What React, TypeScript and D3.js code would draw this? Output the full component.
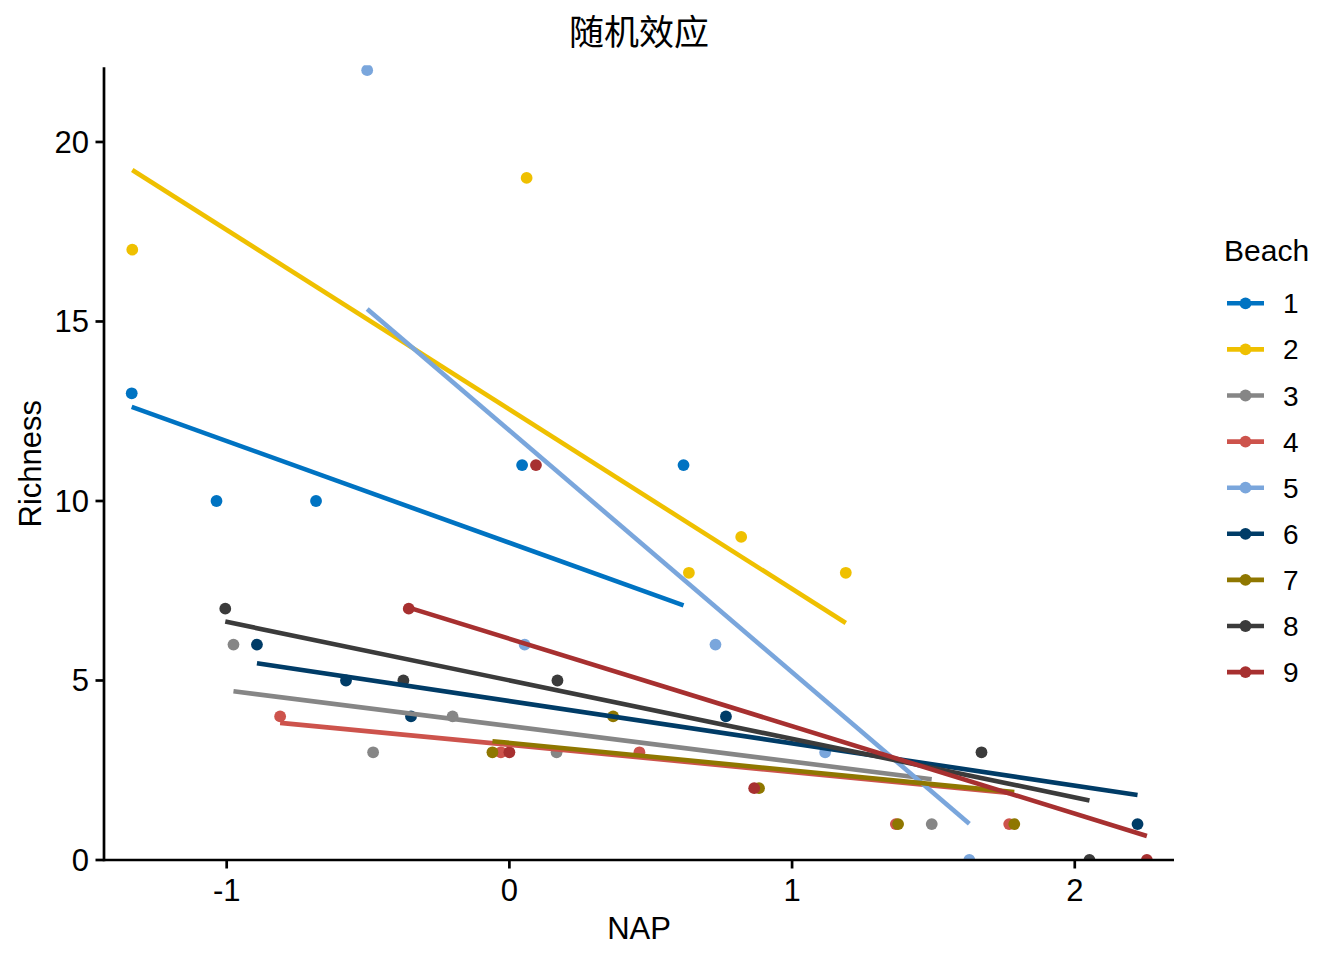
import * as d3 from "d3";
import React from "react";

// RIKZ samples
const beachIds = ["1", "2", "3", "4", "5", "6", "7", "8", "9"];
const sampleBeach = [
  1, 1, 1, 1, 1, 2, 2, 2, 2, 2, 3, 3, 3, 3, 3, 4, 4, 4, 4, 4, 5, 5, 5, 5, 5,
  6, 6, 6, 6, 6, 7, 7, 7, 7, 7, 8, 8, 8, 8, 8, 9, 9, 9, 9, 9,
];
const sampleNAP = [
  0.045, -1.036, -1.336, 0.616, -0.684,
  1.19, 0.82, 0.635, 0.061, -1.334,
  -0.976, 1.494, -0.201, -0.482, 0.167,
  1.768, -0.03, 0.46, 1.367, -0.811,
  1.117, -0.503, 0.729, 1.627, 0.054,
  -0.578, -0.348, 2.222, -0.893, 0.766,
  0.883, 1.786, 1.375, 0.367, -0.06,
  -1.005, 0.17, -0.375, 2.052, 1.67,
  -0.356, 0.094, 0.0, 0.866, 2.255,
];
const sampleRichness = [
  11, 10, 13, 11, 10,
  8, 9, 8, 19, 17,
  6, 1, 4, 3, 3,
  1, 3, 3, 1, 4,
  3, 22, 6, 0, 6,
  5, 4, 1, 6, 4,
  2, 1, 1, 4, 3,
  7, 5, 5, 0, 3,
  7, 11, 3, 2, 0,
];
// fitted (random effects) richness at each beach's lowest and highest NAP
const fitAtMin = [12.62, 19.22, 4.7, 3.82, 15.35, 5.48, 3.31, 6.64, 7.03];
const fitAtMax = [7.09, 6.6, 2.25, 1.87, 1.01, 1.81, 1.89, 1.66, 0.67];

const colors = ["#0073C2", "#EFC000", "#868686", "#CD534C", "#7AA6DC", "#003C67", "#8F7700", "#3B3B3B", "#A73030"];
const xTicks = [-1, 0, 1, 2];
const yTicks = [0, 5, 10, 15, 20];

const font = "'Liberation Sans', Arial, sans-serif";

export default function App() {
  const W = 1344, H = 960;
  const left = 104, right = 1174, top = 67.3, bottom = 860;
  const x = d3.scaleLinear().domain([-1.434, 2.351]).range([left, right]);
  const y = d3.scaleLinear().domain([0, 22.08]).range([bottom, top]);
  const color = d3.scaleOrdinal<string, string>().domain(beachIds).range(colors);
  const line = d3.line<[number, number]>().x(d => x(d[0])).y(d => y(d[1]));

  const points = sampleNAP.map((n, i) => ({ nap: n, rich: sampleRichness[i], beach: String(sampleBeach[i]) }));
  const fits = beachIds.map((b, i) => {
    const naps = points.filter(p => p.beach === b).map(p => p.nap);
    const [lo, hi] = d3.extent(naps) as [number, number];
    return { beach: b, d: line([[lo, fitAtMin[i]], [hi, fitAtMax[i]]])! };
  });

  const lw = 4.6, pr = 5.9;

  return (
    <svg width={W} height={H} viewBox={`0 0 ${W} ${H}`} style={{ display: "block", position: "absolute", left: 0, top: 0, background: "#fff" }} fontFamily={font}>
      <defs>
        <clipPath id="panel"><rect x={left} y={top - 2} width={right - left} height={bottom - top + 2} /></clipPath>
      </defs>
      <text x={(left + right) / 2} y={45} textAnchor="middle" fontSize={35} fontFamily="'Noto Sans CJK SC', sans-serif">随机效应</text>

      <g clipPath="url(#panel)">
        {points.map((p, i) => (
          <circle key={i} cx={x(p.nap)} cy={y(p.rich)} r={pr} fill={color(p.beach)} />
        ))}
        {fits.map(f => (
          <path key={f.beach} d={f.d} stroke={color(f.beach)} strokeWidth={lw} fill="none" />
        ))}
      </g>

      {/* axes */}
      <line x1={left} x2={right} y1={bottom} y2={bottom} stroke="#000" strokeWidth={2.7} />
      <line x1={left} x2={left} y1={top} y2={bottom + 1.3} stroke="#000" strokeWidth={2.7} />
      {xTicks.map(t => (
        <g key={t}>
          <line x1={x(t)} x2={x(t)} y1={bottom} y2={bottom + 8.5} stroke="#000" strokeWidth={2.7} />
          <text x={x(t)} y={901} textAnchor="middle" fontSize={31}>{t}</text>
        </g>
      ))}
      {yTicks.map(t => (
        <g key={t}>
          <line x1={left - 8.5} x2={left} y1={y(t)} y2={y(t)} stroke="#000" strokeWidth={2.7} />
          <text x={89} y={y(t)} dy="0.35em" textAnchor="end" fontSize={31}>{t}</text>
        </g>
      ))}
      <text x={(left + right) / 2} y={939} textAnchor="middle" fontSize={31}>NAP</text>
      <text transform={`translate(41,${(top + bottom) / 2}) rotate(-90)`} textAnchor="middle" fontSize={31}>Richness</text>

      {/* legend */}
      <text x={1224} y={261} fontSize={30}>Beach</text>
      {beachIds.map((b, i) => {
        const ky = 303.3 + i * 46.1;
        return (
          <g key={b}>
            <line x1={1227} x2={1264} y1={ky} y2={ky} stroke={color(b)} strokeWidth={lw} />
            <circle cx={1245.5} cy={ky} r={pr} fill={color(b)} />
            <text x={1283} y={ky} dy="0.36em" fontSize={28}>{b}</text>
          </g>
        );
      })}
    </svg>
  );
}
